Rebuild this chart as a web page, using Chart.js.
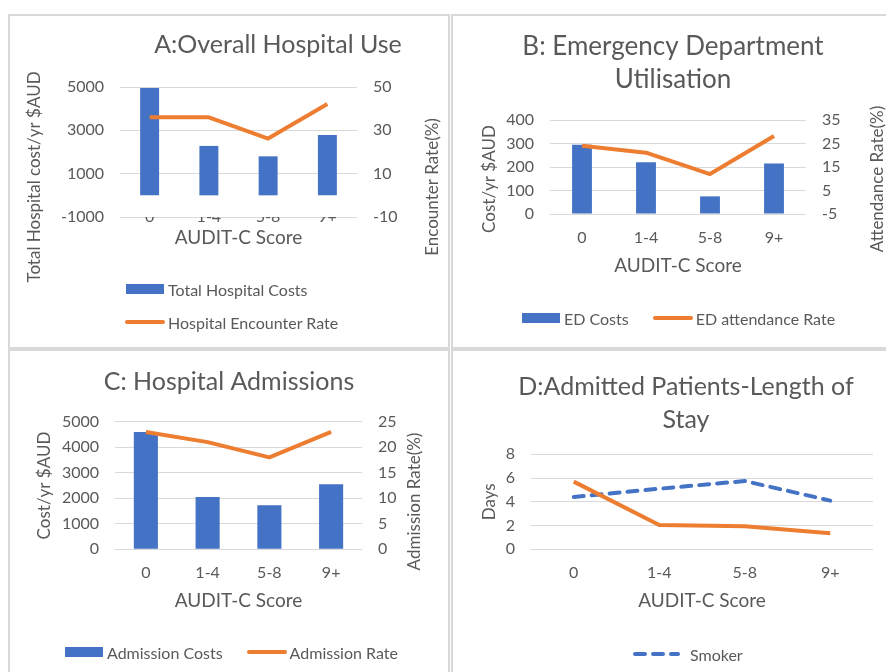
<!DOCTYPE html>
<html>
<head>
<meta charset="utf-8">
<script src="https://cdn.jsdelivr.net/npm/chart.js@4.4.1/dist/chart.umd.min.js"></script>
<style>
    body { margin: 0; width: 886px; height: 672px; overflow: hidden; background: #fff; font-family: Lato, sans-serif; }
    .panel { position: absolute; box-sizing: border-box; border: 2px solid #d9d9d9; }
    .panel canvas { position: absolute; left: -2px; top: -2px; }
    .legend { position: absolute; font-size: 16px; color: #595959; display: flex; white-space: nowrap; }
    .legend.col { flex-direction: column; gap: 13px; }
    .legend.row { flex-direction: row; gap: 24px; }
    .legend .item { display: flex; align-items: center; height: 20px; }
</style>
</head>
<body>
<div class="panel" style="left:8px;top:14px;width:442px;height:335px">
    <canvas id="chartA" width="442" height="334"></canvas>
    <div class="legend col" id="legendA" style="left:115px;top:263px"></div>
</div>
<div class="panel" style="left:451px;top:14px;width:442px;height:335px">
    <canvas id="chartB" width="440" height="334"></canvas>
    <div class="legend row" id="legendB" style="left:68px;top:292px"></div>
</div>
<div class="panel" style="left:8px;top:349px;width:442px;height:340px">
    <canvas id="chartC" width="442" height="330"></canvas>
    <div class="legend row" id="legendC" style="left:54px;top:291px"></div>
</div>
<div class="panel" style="left:451px;top:349px;width:442px;height:340px">
    <canvas id="chartD" width="440" height="330"></canvas>
    <div class="legend col" id="legendD" style="left:180px;top:293px"></div>
</div>
<script>
const scoreLabels = ["0", "1-4", "5-8", "9+"]

// A: overall hospital use
const totalHospitalCosts = [4950, 2280, 1800, 2780]
const hospitalEncounterRate = [36, 36, 26.2, 42.2]

// B: emergency department
const edCosts = [295, 220, 75, 215]
const edAttendanceRate = [24, 21.1, 12, 28.2]

// C: admissions
const admissionCosts = [4600, 2050, 1730, 2550]
const admissionRate = [23, 21, 18, 23]

// D: length of stay (days)
const smokerStay = [4.4, 5.1, 5.75, 4.1]
const nonSmokerStay = [5.7, 2.05, 1.95, 1.35]

const blue = "#4472C4"
const orange = "#ED7D31"
const gridGray = "#d9d9d9"

Chart.defaults.font.family = "Lato"
Chart.defaults.color = "#595959"

// excel style: vertical axis titles read bottom-to-top on both sides, and can sit off-centre
const excelTitles = {
    id: "excelTitles",
    afterLayout(chart, args, opts) {
        if (opts.titleDx && chart.titleBlock) {
            chart.titleBlock.left += opts.titleDx
            chart.titleBlock.right += opts.titleDx
        }
        const shift = opts.shift || {}
        ;["y", "y1"].forEach(id => {
            const scale = chart.scales[id]
            if (!scale || scale.excelTitle) return
            scale.excelTitle = true
            scale.drawTitle = function () {
                const t = this.options.title
                if (!t.display) return
                const font = Chart.helpers.toFont(t.font)
                const pad = Chart.helpers.toPadding(t.padding)
                const half = font.lineHeight / 2
                const x = this.position === "left" ? this.left + pad.top + half : this.right - pad.top - half
                const y = (this.top + this.bottom) / 2 + (shift[id] || 0)
                const ctx = this.ctx
                ctx.save()
                ctx.translate(x, y)
                ctx.rotate(-Math.PI / 2)
                ctx.font = font.string
                ctx.fillStyle = t.color
                ctx.textAlign = "center"
                ctx.textBaseline = "middle"
                ctx.fillText(t.text, 0, 0)
                ctx.restore()
            }
        })
    }
}
Chart.register(excelTitles)

function buildLegend(chart, el, swatchW, txtGap) {
    chart.data.datasets.forEach(ds => {
        const item = document.createElement("div")
        item.className = "item"
        let sw
        if ((ds.type || chart.config.type) === "bar") {
            sw = `<span style="display:block;width:${swatchW - 2}px;margin:0 1px;height:10px;background:${ds.backgroundColor}"></span>`
        } else {
            const dash = ds.borderDash ? ds.borderDash.join(" ") : "none"
            sw = `<svg width="${swatchW}" height="10" style="display:block"><line x1="2" y1="5" x2="${swatchW - 2}" y2="5" stroke="${ds.borderColor}" stroke-width="4" stroke-linecap="round" stroke-dasharray="${dash}"/></svg>`
        }
        item.innerHTML = sw + `<span style="margin-left:${txtGap}px">${ds.label}</span>`
        el.appendChild(item)
    })
}

function comboChart(canvasId, o) {
    return new Chart(document.getElementById(canvasId), {
        type: "bar",
        data: {
            labels: scoreLabels,
            datasets: [{
                type: "bar",
                label: o.barLabel,
                data: o.barData,
                backgroundColor: blue,
                categoryPercentage: 1,
                barPercentage: o.barPct,
                order: 1
            }, {
                type: "line",
                label: o.lineLabel,
                data: o.lineData,
                borderColor: orange,
                borderWidth: 4,
                borderJoinStyle: "round",
                pointRadius: 0,
                yAxisID: "y1",
                order: 0
            }]
        },
        options: {
            responsive: false,
            animation: false,
            layout: { padding: { left: 0, right: 0, top: 0, bottom: o.padBottom } },
            plugins: {
                legend: { display: false },
                tooltip: { enabled: false },
                title: {
                    display: true,
                    text: o.title,
                    font: { size: o.titleSize, weight: "normal", lineHeight: "33px" },
                    padding: { top: o.titlePad[0], bottom: o.titlePad[1] }
                },
                excelTitles: { titleDx: o.titleDx, shift: { y: o.dyLeft, y1: o.dyRight } }
            },
            scales: {
                x: {
                    grid: { display: false, drawTicks: false },
                    border: { display: false },
                    ticks: { padding: o.xTickPad, maxRotation: 0, font: { size: 16 } },
                    title: { display: true, text: "AUDIT-C Score", font: { size: 19 }, padding: { top: 0, bottom: o.xTitlePad } },
                    afterFit: s => { s.height = o.xHeight }
                },
                y: {
                    position: "left",
                    min: o.left[0], max: o.left[1],
                    ticks: { stepSize: o.left[2], padding: 16, font: { size: 16 }, callback: v => String(v) },
                    grid: { color: gridGray, drawTicks: false },
                    border: { display: false },
                    title: { display: true, text: o.leftTitle, font: { size: 17 }, padding: { top: o.leftTitlePad } },
                    afterFit: s => { s.width = o.leftW }
                },
                y1: {
                    position: "right",
                    min: o.right[0], max: o.right[1],
                    ticks: { stepSize: o.right[2], padding: 16, font: { size: 16 }, callback: v => String(v) },
                    grid: { display: false, drawTicks: false },
                    border: { display: false },
                    title: { display: true, text: o.rightTitle, font: { size: 17 }, padding: { top: o.rightTitlePad } },
                    afterFit: s => { s.width = o.rightW }
                }
            }
        }
    })
}

const chartA = comboChart("chartA", {
    title: "A:Overall Hospital Use", titleSize: 25, titlePad: [14.5, 25.5], titleDx: 49,
    barLabel: "Total Hospital Costs", barData: totalHospitalCosts, barPct: 0.32,
    lineLabel: "Hospital Encounter Rate", lineData: hospitalEncounterRate,
    left: [-1000, 5000, 2000], right: [-10, 50, 20],
    leftTitle: "Total Hospital cost/yr $AUD", leftTitlePad: 16.8, leftW: 112, dyLeft: 25,
    rightTitle: "Encounter Rate(%)", rightTitlePad: 6.8, rightW: 93, dyRight: 35,
    xTickPad: -9.6, xTitlePad: 17.6, xHeight: 50, padBottom: 81
})

const chartB = comboChart("chartB", {
    title: ["B: Emergency Department", "Utilisation"], titleSize: 26, titlePad: [16.5, 23.5], titleDx: 2,
    barLabel: "ED Costs", barData: edCosts, barPct: 0.31,
    lineLabel: "ED attendance Rate", lineData: edAttendanceRate,
    left: [0, 400, 100], right: [-5, 35, 10],
    leftTitle: "Cost/yr $AUD", leftTitlePad: 28.8, leftW: 99, dyLeft: 12,
    rightTitle: "Attendance Rate(%)", rightTitlePad: 2.8, rightW: 85, dyRight: 12,
    xTickPad: 14.4, xTitlePad: 6.6, xHeight: 70, padBottom: 64
})

const chartC = comboChart("chartC", {
    title: "C: Hospital Admissions", titleSize: 25, titlePad: [16.5, 23.2], titleDx: 0,
    barLabel: "Admission Costs", barData: admissionCosts, barPct: 0.39,
    lineLabel: "Admission Rate", lineData: admissionRate,
    left: [0, 5000, 1000], right: [0, 25, 5],
    leftTitle: "Cost/yr $AUD", leftTitlePad: 26.8, leftW: 107, dyLeft: 0,
    rightTitle: "Admission Rate(%)", rightTitlePad: 24.8, rightW: 88, dyRight: 16,
    xTickPad: 13.8, xTitlePad: 6.9, xHeight: 70, padBottom: 59.7
})

const chartD = new Chart(document.getElementById("chartD"), {
    type: "line",
    data: {
        labels: scoreLabels,
        datasets: [{
            label: "Smoker",
            data: smokerStay,
            borderColor: blue,
            borderWidth: 4,
            borderDash: [10, 8],
            borderCapStyle: "round",
            pointRadius: 0,
            order: 1
        }, {
            label: "Non-smoker",
            data: nonSmokerStay,
            borderColor: orange,
            borderWidth: 4,
            borderJoinStyle: "round",
            pointRadius: 0,
            order: 0
        }]
    },
    options: {
        responsive: false,
        animation: false,
        layout: { padding: { left: 0, right: 18, top: 0, bottom: 59.7 } },
        plugins: {
            legend: { display: false },
            tooltip: { enabled: false },
            title: {
                display: true,
                text: ["D:Admitted Patients-Length of", "Stay"],
                font: { size: 25, weight: "normal", lineHeight: "33px" },
                padding: { top: 21.5, bottom: 17.8 }
            },
            excelTitles: { titleDx: 24 }
        },
        scales: {
            x: {
                offset: true,
                grid: { display: false, drawTicks: false },
                border: { display: false },
                ticks: { padding: 13.8, maxRotation: 0, font: { size: 16 } },
                title: { display: true, text: "AUDIT-C Score", font: { size: 19 }, padding: { top: 0, bottom: 6.9 } },
                afterFit: s => { s.height = 70 }
            },
            y: {
                min: 0, max: 8,
                ticks: { stepSize: 2, padding: 16, font: { size: 16 } },
                grid: { color: gridGray, drawTicks: false },
                border: { display: false },
                title: { display: true, text: "Days", font: { size: 17 }, padding: { top: 28.8 } },
                afterFit: s => { s.width = 80 }
            }
        }
    }
})

buildLegend(chartA, document.getElementById("legendA"), 40, 3)
buildLegend(chartB, document.getElementById("legendB"), 40, 3)
buildLegend(chartC, document.getElementById("legendC"), 40, 3)
buildLegend(chartD, document.getElementById("legendD"), 47, 10)
</script>
</body>
</html>
